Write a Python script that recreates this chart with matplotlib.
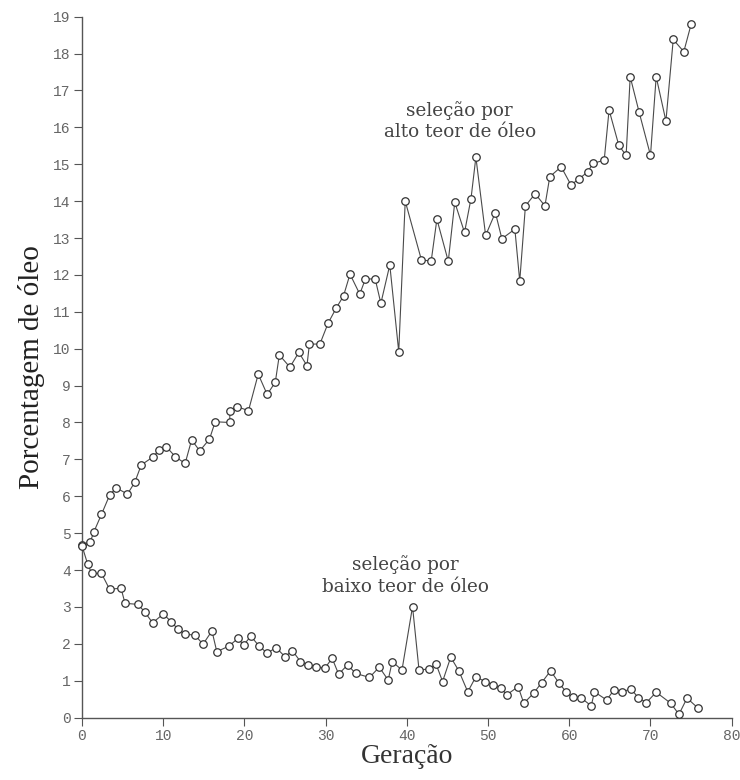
import matplotlib
matplotlib.use("Agg")
import matplotlib.pyplot as plt

# geração e porcentagem de óleo
ger_alto = [0.0, 1.0, 1.45, 2.4, 3.4, 4.2, 5.6, 6.5, 7.3, 8.7,
            9.5, 10.4, 11.5, 12.7, 13.5, 14.5, 15.7, 16.4, 18.2, 18.2,
            19.1, 20.5, 21.7, 22.8, 23.8, 24.3, 25.6, 26.7, 27.7, 28.0,
            29.3, 30.3, 31.3, 32.2, 33.0, 34.2, 34.9, 36.1, 36.8, 37.9,
            39.0, 39.8, 41.8, 43.0, 43.7, 45.1, 45.9, 47.1, 47.9, 48.5,
            49.7, 50.9, 51.7, 53.3, 53.9, 54.6, 55.8, 57.0, 57.6, 59.0,
            60.2, 61.2, 62.3, 62.9, 64.3, 64.9, 66.1, 67.0, 67.5, 68.6,
            70.0, 70.7, 71.9, 72.8, 74.1, 75.0]
oleo_alto = [4.68, 4.75, 5.03, 5.51, 6.03, 6.23, 6.06, 6.38, 6.85, 7.06,
             7.25, 7.34, 7.07, 6.89, 7.53, 7.23, 7.55, 8.02, 8.0, 8.32,
             8.43, 8.32, 9.31, 8.76, 9.09, 9.83, 9.50, 9.90, 9.54, 10.12,
             10.13, 10.69, 11.1, 11.43, 12.02, 11.48, 11.89, 11.89, 11.23, 12.27,
             9.92, 14.0, 12.40, 12.38, 13.51, 12.37, 13.97, 13.15, 14.07, 15.19,
             13.07, 13.69, 12.98, 13.24, 11.83, 13.87, 14.2, 13.87, 14.66, 14.93,
             14.44, 14.6, 14.80, 15.02, 15.11, 16.47, 15.51, 15.24, 17.37, 16.41,
             15.24, 17.37, 16.17, 18.38, 18.05, 18.79]

ger_baixo = [0.0, 0.7, 1.2, 2.4, 3.4, 4.8, 5.3, 6.9, 7.7, 8.7,
             10.0, 11.0, 11.8, 12.7, 13.9, 14.9, 16.0, 16.6, 18.1, 19.2,
             19.9, 20.8, 21.8, 22.8, 23.9, 25.0, 25.9, 26.9, 27.8, 28.8,
             29.9, 30.8, 31.6, 32.7, 33.7, 35.4, 36.6, 37.7, 38.2, 39.4,
             40.7, 41.5, 42.7, 43.6, 44.4, 45.4, 46.4, 47.5, 48.5, 49.6,
             50.6, 51.6, 52.3, 53.7, 54.4, 55.6, 56.6, 57.7, 58.7, 59.6,
             60.4, 61.5, 62.7, 63.1, 64.6, 65.5, 66.5, 67.6, 68.5, 69.5,
             70.7, 72.5, 73.5, 74.5, 75.8]
oleo_baixo = [4.66, 4.16, 3.91, 3.91, 3.48, 3.51, 3.10, 3.07, 2.87, 2.57,
              2.81, 2.60, 2.40, 2.26, 2.24, 1.99, 2.35, 1.79, 1.94, 2.15,
              1.97, 2.21, 1.94, 1.75, 1.90, 1.65, 1.82, 1.52, 1.43, 1.38,
              1.34, 1.61, 1.18, 1.43, 1.20, 1.09, 1.37, 1.02, 1.52, 1.29,
              3.01, 1.29, 1.32, 1.45, 0.98, 1.64, 1.27, 0.70, 1.11, 0.98,
              0.89, 0.80, 0.62, 0.84, 0.39, 0.66, 0.95, 1.27, 0.95, 0.70,
              0.55, 0.53, 0.32, 0.70, 0.48, 0.75, 0.70, 0.78, 0.54, 0.41,
              0.69, 0.39, 0.09, 0.53, 0.27]

x_ticks = list(range(0, 81, 10))
y_ticks = list(range(0, 20))

cor = "#4a4a4a"
serif = ["Liberation Serif", "DejaVu Serif"]

fig = plt.figure(figsize=(7.4, 7.8), dpi=100)
ax = fig.add_axes([0.1108, 0.0799, 0.878, 0.8988])

for xs, ys in [(ger_alto, oleo_alto), (ger_baixo, oleo_baixo)]:
    ax.plot(xs, ys, color=cor, lw=0.8, marker="o", ms=5.4,
            mfc="white", mec="#333333", mew=0.9, clip_on=False, zorder=3)

ax.set_xlim(0, 80)
ax.set_ylim(0, 19)
ax.set_xticks(x_ticks)
ax.set_yticks(y_ticks)
for s in ["top", "right"]:
    ax.spines[s].set_visible(False)
for s in ["left", "bottom"]:
    ax.spines[s].set_color("#555555")
    ax.spines[s].set_linewidth(1.0)
ax.tick_params(direction="out", length=6, width=0.8, color="#555555",
               labelcolor="#666666", labelsize=10.5, pad=2)
for lab in ax.get_xticklabels() + ax.get_yticklabels():
    lab.set_family(["Liberation Mono", "DejaVu Sans Mono"])

ax.set_ylabel("Porcentagem de óleo", family=serif, fontsize=21,
              color="#222222", labelpad=6)
ax.set_xlabel("Geração", family=serif, fontsize=20, color="#333333",
              labelpad=1)

# rótulos das duas linhas de seleção
ax.text(46.5, 16.17, "seleção por\nalto teor de óleo", family=["DejaVu Serif"],
        fontsize=13.2, color="#444444", ha="center", va="center",
        linespacing=1.25)
ax.text(39.8, 3.85, "seleção por\nbaixo teor de óleo", family=["DejaVu Serif"],
        fontsize=13.2, color="#444444", ha="center", va="center",
        linespacing=1.25)

fig.savefig("out.png", dpi=100, facecolor="white")
